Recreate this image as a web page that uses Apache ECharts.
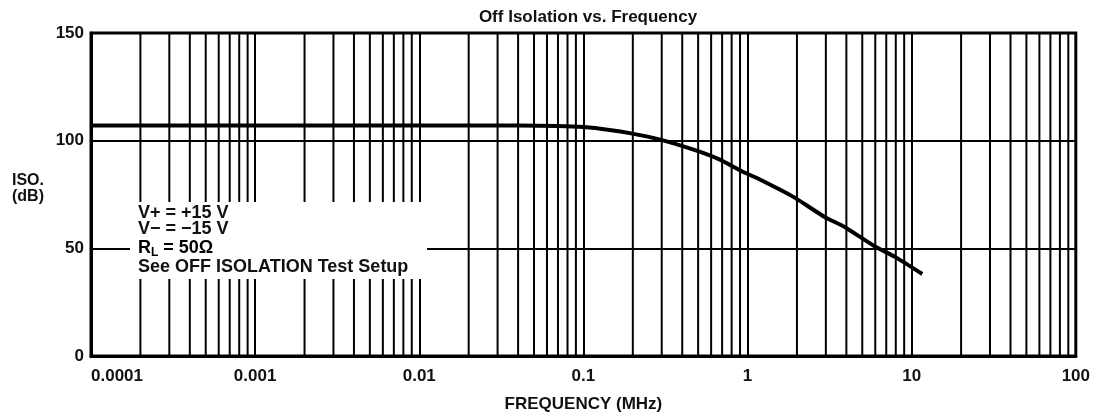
<!DOCTYPE html>
<html>
<head>
<meta charset="utf-8">
<script src="https://cdn.jsdelivr.net/npm/echarts@6/dist/echarts.min.js"></script>
<style>
  html, body { margin: 0; padding: 0; background: #fff; }
  #main { width: 1093px; height: 419px; }
</style>
</head>
<body>
<div id="main"></div>
<script>
// curve: off isolation (dB) against frequency (MHz)
var freqs = [0.0001, 0.001, 0.01, 0.04, 0.07, 0.1, 0.144, 0.195, 0.29, 0.474, 0.673, 0.934, 1.18, 1.56, 1.97, 2.93, 3.88, 5.91, 8.02, 11.6];
var isoDb = [107.0, 107.0, 107.0, 107.0, 106.8, 106.3, 105.0, 103.4, 100.6, 95.7, 91.3, 85.6, 82.1, 77.4, 73.2, 64.7, 60.0, 51.1, 45.8, 38.1];

// axes
var xTickLabels = ['0.0001', '0.001', '0.01', '0.1', '1', '10', '100'];
var decades = [0.0001, 0.001, 0.01, 0.1, 1, 10];
var minorSteps = [2, 3, 4, 5, 6, 7, 8, 9];
var yTicks = [0, 50, 100, 150];

var notes = ['V+ = +15 V', 'V\u2212 = \u221215 V', 'See OFF ISOLATION Test Setup'];

var FONT = '"Liberation Sans", Arial, sans-serif';

// minor vertical grid lines (2..9 within each decade)
var minorLines = [];
decades.forEach(function (d) {
  minorSteps.forEach(function (m) {
    minorLines.push([+(d * m).toPrecision(3), yTicks[0]]);
  });
});

var chart = echarts.init(document.getElementById('main'));

chart.setOption({
  backgroundColor: '#fff',
  animation: false,
  title: {
    text: 'Off Isolation vs. Frequency',
    left: 583,
    top: 4,
    textAlign: 'center',
    textStyle: { fontFamily: FONT, fontSize: 17, fontWeight: 'bold', color: '#111' }
  },
  grid: {
    left: 91, right: 17, top: 33, bottom: 63,
    show: true, borderColor: '#000', borderWidth: 3, backgroundColor: 'transparent'
  },
  xAxis: {
    type: 'log',
    logBase: 10,
    min: 0.0001,
    max: 100,
    name: 'FREQUENCY (MHz)',
    nameLocation: 'middle',
    nameGap: 40,
    nameTextStyle: { fontFamily: FONT, fontSize: 17, fontWeight: 'bold', color: '#111' },
    axisLine: { lineStyle: { color: '#000', width: 3 } },
    axisTick: { show: false },
    axisLabel: {
      margin: 12,
      fontFamily: FONT, fontSize: 17, fontWeight: 'bold', color: '#111',
      alignMinLabel: 'left',
      formatter: function (v) {
        var i = Math.round(Math.log10(v)) + 4;
        return xTickLabels[i] || '';
      }
    },
    splitLine: { show: true, lineStyle: { color: '#000', width: 2 } }
  },
  yAxis: {
    type: 'value',
    min: yTicks[0],
    max: yTicks[yTicks.length - 1],
    interval: 50,
    axisLine: { show: true, lineStyle: { color: '#000', width: 3 } },
    axisTick: { show: false },
    axisLabel: { margin: 7, fontFamily: FONT, fontSize: 17, fontWeight: 'bold', color: '#111' },
    splitLine: { show: true, lineStyle: { color: '#000', width: 2 } }
  },
  series: [
    {
      // minor grid lines
      type: 'custom',
      z: 1,
      silent: true,
      data: minorLines,
      renderItem: function (params, api) {
        var x = api.value(0);
        var p0 = api.coord([x, yTicks[0]]);
        var p1 = api.coord([x, yTicks[yTicks.length - 1]]);
        return {
          type: 'line',
          shape: { x1: p0[0], y1: p0[1], x2: p1[0], y2: p1[1] },
          style: { stroke: '#000', lineWidth: 2 }
        };
      }
    },
    {
      name: 'Off Isolation',
      type: 'line',
      z: 5,
      data: freqs.map(function (f, i) { return [f, isoDb[i]]; }),
      smooth: 0.15,
      symbol: 'none',
      lineStyle: { color: '#000', width: 4 }
    }
  ],
  graphic: [
    {
      type: 'rect',
      z: 100,
      shape: { x: 130, y: 202, width: 297, height: 77 },
      style: { fill: '#fff' }
    },
    {
      type: 'text', z: 101, left: 12, top: 173,
      style: { text: 'ISO.\n(dB)', fontFamily: FONT, fontSize: 16, fontWeight: 'bold', fill: '#111', lineHeight: 16 }
    },
    {
      type: 'text', z: 101, left: 138, top: 204,
      style: { text: notes[0], fontFamily: FONT, fontSize: 18, fontWeight: 'bold', fill: '#111' }
    },
    {
      type: 'text', z: 101, left: 138, top: 220,
      style: { text: notes[1], fontFamily: FONT, fontSize: 18, fontWeight: 'bold', fill: '#111' }
    },
    {
      type: 'text', z: 101, left: 138, top: 238,
      style: {
        text: '{n|R}{s|L}{n| = 50\u03A9}',
        rich: {
          n: { fontFamily: FONT, fontSize: 18, fontWeight: 'bold', color: '#111', lineHeight: 20 },
          s: { fontFamily: FONT, fontSize: 12, fontWeight: 'bold', color: '#111', lineHeight: 20, padding: [9, 0, 0, 0] }
        }
      }
    },
    {
      type: 'text', z: 101, left: 138, top: 258,
      style: { text: notes[2], fontFamily: FONT, fontSize: 18, fontWeight: 'bold', fill: '#111' }
    }
  ]
});
</script>
</body>
</html>
